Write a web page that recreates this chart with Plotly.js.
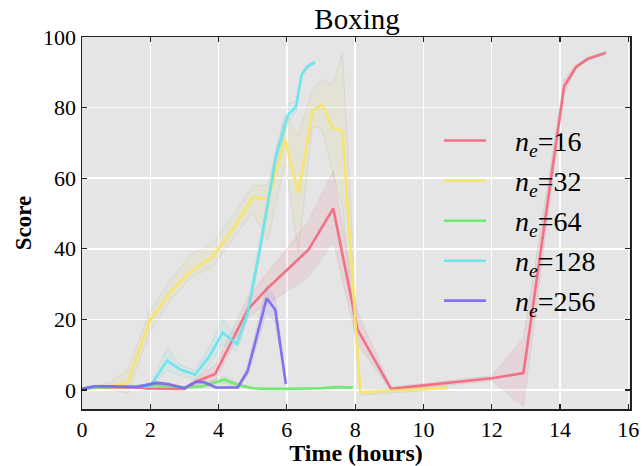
<!DOCTYPE html>
<html>
<head>
<meta charset="utf-8">
<script src="https://cdn.plot.ly/plotly-3.0.1.min.js"></script>
<style>html,body{margin:0;padding:0;background:#fff;}#chart{width:643px;height:466px;}</style>
</head>
<body>
<div id="chart"></div>
<script>
// ---- data ----
const seriesNames = ["16", "32", "64", "128", "256"];

const t16  = [0, 0.35, 0.8, 1.2, 1.6, 1.9, 2.5, 3.0, 3.35, 3.9, 4.85, 5.4, 6.0, 6.63, 7.36, 8.07, 9.05, 12.0, 12.93, 14.12, 14.47, 14.81, 15.34];
const s16  = [0.3, 0.7, 0.8, 0.9, 0.8, 0.4, 0.3, 0.3, 2.4, 4.5, 22.7, 28.5, 34.0, 39.7, 51.4, 17.1, 0.3, 3.3, 4.8, 86.0, 91.5, 93.8, 95.5];
const lo16 = [0.1, 0.4, 0.5, 0.6, 0.5, 0.1, 0.0, 0.0, 1.5, 2.5, 20.5, 24.0, 28.0, 32.0, 42.0, 13.0, -0.2, 2.6, -4.6, 84.0, 91.0, 93.3, 95.0];
const hi16 = [0.5, 1.0, 1.1, 1.2, 1.1, 0.7, 0.6, 0.6, 3.5, 7.0, 26.0, 33.0, 40.0, 48.0, 62.0, 22.0, 0.8, 4.0, 14.7, 88.0, 92.0, 94.3, 96.0];

const t32  = [0, 0.35, 0.8, 1.34, 1.97, 2.6, 3.19, 3.83, 4.41, 5.0, 5.44, 5.95, 6.34, 6.75, 7.03, 7.34, 7.63, 8.15, 10.71];
const s32  = [0.3, 0.5, 1.0, 2.0, 19.4, 27.9, 33.6, 37.8, 45.4, 54.6, 54.1, 70.9, 55.6, 79.2, 80.8, 74.2, 73.3, -0.7, 0.6];
const lo32 = [0.1, 0.1, 0.2, -0.9, 16.0, 25.6, 31.8, 35.0, 42.6, 50.2, 42.6, 64.4, 38.9, 74.7, 74.0, 62.0, 52.0, -1.5, 0.3];
const hi32 = [0.5, 1.0, 2.0, 5.7, 22.0, 31.2, 38.3, 41.7, 49.2, 57.7, 58.2, 78.0, 72.3, 85.0, 88.0, 86.5, 95.3, 0.0, 0.9];

const t64  = [0, 0.35, 0.8, 1.2, 1.6, 2.02, 2.5, 3.0, 3.5, 4.17, 4.56, 5.0, 5.34, 6.0, 6.5, 7.0, 7.49, 7.93];
const s64  = [0.3, 0.8, 0.9, 1.0, 1.0, 1.4, 1.2, 0.7, 1.0, 2.9, 1.5, 0.5, 0.3, 0.3, 0.3, 0.5, 0.8, 0.7];
const lo64 = [0.1, 0.5, 0.6, 0.7, 0.7, 1.0, 0.8, 0.4, 0.6, 2.0, 1.0, 0.3, 0.1, 0.1, 0.1, 0.3, 0.6, 0.5];
const hi64 = [0.5, 1.1, 1.2, 1.3, 1.3, 1.8, 1.6, 1.0, 1.4, 4.0, 2.0, 0.7, 0.5, 0.5, 0.5, 0.7, 1.0, 0.9];

const t128  = [0, 0.35, 0.8, 1.2, 1.6, 2.0, 2.49, 2.9, 3.31, 3.73, 4.12, 4.54, 4.85, 5.19, 5.68, 6.04, 6.27, 6.43, 6.61, 6.82];
const s128  = [0.3, 0.8, 0.9, 1.0, 0.9, 1.0, 8.3, 5.7, 4.3, 9.5, 16.3, 13.0, 21.8, 38.8, 66.2, 78.0, 80.3, 89.3, 91.7, 92.8];
const lo128 = [0.1, 0.5, 0.6, 0.7, 0.6, 0.6, 5.5, 4.0, 3.0, 7.0, 13.0, 11.0, 20.0, 37.0, 64.0, 76.0, 79.0, 88.8, 91.2, 92.3];
const hi128 = [0.5, 1.1, 1.2, 1.3, 1.2, 1.4, 12.0, 7.0, 5.5, 12.0, 20.0, 15.0, 24.0, 41.0, 68.0, 81.0, 82.0, 89.8, 92.2, 93.3];

const t256  = [0, 0.35, 0.8, 1.2, 1.6, 2.17, 2.51, 3.0, 3.34, 3.58, 3.92, 4.56, 4.85, 5.41, 5.66, 5.97];
const s256  = [0.3, 1.0, 1.0, 1.0, 0.8, 2.0, 1.7, 0.5, 2.3, 2.2, 0.7, 0.7, 5.3, 26.0, 22.7, 1.7];
const lo256 = [0.1, 0.7, 0.7, 0.7, 0.5, 1.5, 1.2, 0.2, 1.8, 1.7, 0.4, 0.4, 4.0, 22.0, 19.0, 1.2];
const hi256 = [0.5, 1.3, 1.3, 1.3, 1.1, 2.5, 2.2, 0.8, 2.8, 2.7, 1.0, 1.0, 7.0, 29.5, 26.0, 2.2];

const xTicks = [0, 2, 4, 6, 8, 10, 12, 14, 16];
const yTicks = [0, 20, 40, 60, 80, 100];

// ---- styles ----
const lineColors = ["#f2667d", "#f7e462", "#66ea66", "#62e6f0", "#7a66f0"];
const bandColors = ["rgba(242,102,125,0.12)", "rgba(220,215,120,0.14)", "rgba(102,234,102,0.12)", "rgba(98,230,240,0.12)", "rgba(122,102,240,0.12)"];

const allT = [t16, t32, t64, t128, t256];
const allS = [s16, s32, s64, s128, s256];
const allLo = [lo16, lo32, lo64, lo128, lo256];
const allHi = [hi16, hi32, hi64, hi128, hi256];

const traces = [];
for (let i = 0; i < seriesNames.length; i++) {
  const t = allT[i];
  traces.push({
    x: t.concat(t.slice().reverse()),
    y: allHi[i].concat(allLo[i].slice().reverse()),
    type: "scatter", mode: "lines", fill: "toself",
    fillcolor: bandColors[i],
    line: {color: "rgba(120,120,120,0.12)", width: 1},
    hoverinfo: "skip", showlegend: false
  });
  traces.push({
    x: t, y: allS[i], type: "scatter", mode: "lines",
    line: {color: lineColors[i], width: 2.6},
    opacity: 0.9,
    name: "n_e=" + seriesNames[i], showlegend: false
  });
}

// ---- manual legend (from the series arrays) ----
const L = 82, R = 630, T = 37, B = 409.5;
const px = v => (v - L) / (R - L);
const py = v => (B - v) / (B - T);
const legendRows = [140.7, 180.7, 221, 261, 301];
const shapes = [];
const annotations = [];
for (let i = 0; i < seriesNames.length; i++) {
  shapes.push({type: "line", xref: "paper", yref: "paper",
    x0: px(444), x1: px(486), y0: py(legendRows[i]), y1: py(legendRows[i]),
    line: {color: lineColors[i], width: 2.6}, opacity: 0.9});
  annotations.push({xref: "paper", yref: "paper", x: px(513), y: py(legendRows[i] + 3),
    xanchor: "left", yanchor: "middle", showarrow: false,
    text: "<i>n</i><sub><i>e</i></sub>=" + seriesNames[i],
    font: {family: "Liberation Serif", size: 28, color: "#000"}});
}

const serif = "Liberation Serif";
const layout = {
  width: 643, height: 466,
  margin: {l: L, r: 643 - R, t: T, b: 466 - B, pad: 0},
  paper_bgcolor: "#ffffff", plot_bgcolor: "#e5e5e5",
  showlegend: false,
  title: {text: "Boxing", font: {family: serif, size: 29, color: "#000"},
          x: 357 / 643, xanchor: "center", y: 1 - 19 / 466, yanchor: "middle"},
  xaxis: {
    range: [0, 16.05], tickvals: xTicks, ticktext: xTicks.map(String),
    showgrid: true, gridcolor: "#ffffff", gridwidth: 1.5, zeroline: false,
    showline: true, linecolor: "#222", linewidth: 1.5, mirror: "ticks",
    ticks: "inside", ticklen: 5, tickcolor: "#222", tickwidth: 1.2,
    tickfont: {family: serif, size: 22, color: "#000"},
    title: {text: "<b>Time (hours)</b>", font: {family: serif, size: 24, color: "#000"}, standoff: 6}
  },
  yaxis: {
    range: [-5.4, 100], tickvals: yTicks, ticktext: yTicks.map(String),
    showgrid: true, gridcolor: "#ffffff", gridwidth: 1.5, zeroline: false,
    showline: true, linecolor: "#222", linewidth: 1.5, mirror: "ticks",
    ticks: "inside", ticklen: 5, tickcolor: "#222", tickwidth: 1.2,
    tickfont: {family: serif, size: 22, color: "#000"},
    title: {text: "<b>Score</b>", font: {family: serif, size: 23, color: "#000"}, standoff: 5}
  },
  shapes: shapes,
  annotations: annotations
};

Plotly.newPlot("chart", traces, layout, {staticPlot: true, displayModeBar: false});
</script>
</body>
</html>
